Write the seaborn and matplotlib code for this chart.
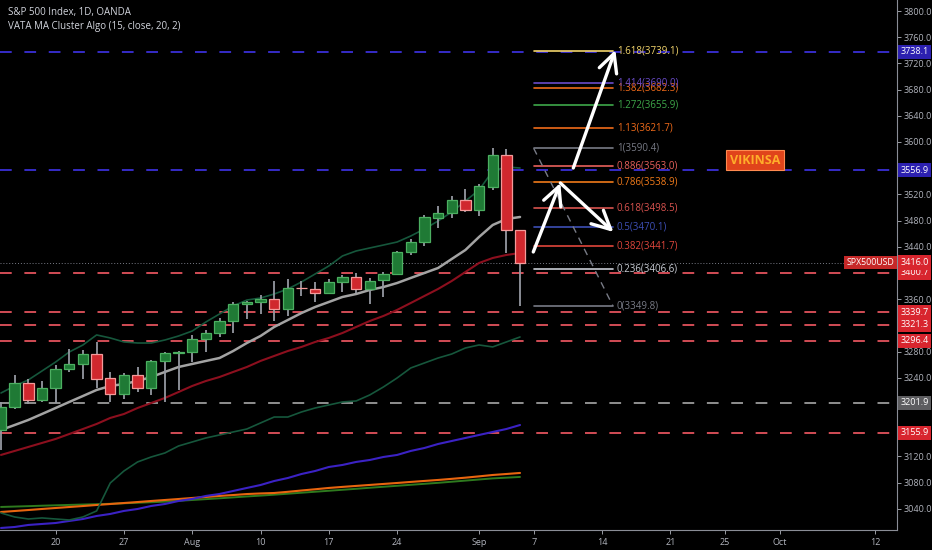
import numpy as np
import pandas as pd
import matplotlib
matplotlib.use("Agg")
import matplotlib.pyplot as plt
import seaborn as sns
from matplotlib.transforms import blended_transform_factory

# ---------------- data ----------------
calendar = pd.bdate_range("2020-07-14", "2020-10-20")
n_candles = 39
opens = [3160.3, 3195.4, 3232.1, 3206.1, 3224.4, 3253.4, 3261.1, 3276.3, 3239.7, 3215.3,
         3244.3, 3224.4, 3265.7, 3277.9, 3279.4, 3299.2, 3308.4, 3326.7, 3352.7, 3355.7,
         3360.3, 3345.0, 3377.1, 3375.6, 3369.5, 3386.3, 3393.9, 3375.6, 3389.3, 3398.5,
         3432.1, 3447.3, 3484.0, 3491.6, 3511.5, 3496.2, 3531.3, 3580.2, 3465.7]
highs = [3203.1, 3244.3, 3238.2, 3235.1, 3259.6, 3284.0, 3282.5, 3294.7, 3248.9, 3247.3,
         3256.5, 3267.2, 3279.4, 3280.5, 3305.4, 3313.0, 3331.3, 3355.7, 3356.5, 3366.4,
         3387.8, 3390.9, 3387.8, 3386.3, 3390.9, 3397.0, 3400.0, 3392.4, 3401.5, 3433.6,
         3451.9, 3488.6, 3502.3, 3517.6, 3528.3, 3535.9, 3590.4, 3589.3, 3466.2]
lows = [3129.8, 3193.0, 3200.0, 3203.1, 3201.5, 3248.9, 3238.2, 3224.4, 3203.1, 3207.6,
        3218.3, 3213.8, 3203.1, 3221.4, 3264.1, 3279.4, 3302.3, 3308.4, 3329.8, 3337.4,
        3326.7, 3334.4, 3364.9, 3355.7, 3369.0, 3371.0, 3369.5, 3352.0, 3363.4, 3397.0,
        3427.5, 3441.2, 3468.7, 3484.0, 3493.1, 3487.0, 3526.7, 3430.5, 3349.8]
closes = [3195.4, 3232.1, 3206.1, 3224.4, 3253.4, 3261.1, 3276.3, 3238.2, 3215.3, 3244.3,
          3224.4, 3265.7, 3277.9, 3279.4, 3299.2, 3308.4, 3326.7, 3352.7, 3355.7, 3360.3,
          3345.0, 3377.1, 3376.6, 3369.5, 3386.3, 3393.9, 3375.6, 3387.8, 3398.5, 3432.1,
          3447.3, 3485.5, 3491.6, 3511.5, 3496.2, 3532.8, 3580.2, 3465.7, 3416.0]

ma_fast = [3160.3, 3167.9, 3175.6, 3184.7, 3193.9, 3203.1, 3212.2, 3221.4, 3227.5, 3230.5,
           3235.1, 3241.2, 3248.9, 3256.5, 3261.1, 3265.7, 3270.2, 3280.9, 3293.1, 3303.8,
           3317.6, 3328.2, 3338.9, 3348.1, 3355.7, 3363.4, 3367.9, 3374.1, 3378.6, 3384.7,
           3392.4, 3400.0, 3407.6, 3421.4, 3435.1, 3455.0, 3473.3, 3482.4, 3485.5]
ma_mid = [3122.2, 3128.3, 3134.4, 3140.5, 3146.6, 3154.2, 3161.8, 3169.5, 3178.7, 3184.7,
          3193.9, 3201.5, 3209.2, 3218.3, 3227.5, 3235.1, 3241.2, 3248.9, 3256.5, 3265.7,
          3273.3, 3280.9, 3287.1, 3294.7, 3300.8, 3308.4, 3317.6, 3326.7, 3334.4, 3343.6,
          3354.2, 3364.9, 3375.6, 3387.8, 3401.5, 3415.3, 3422.9, 3427.5, 3430.5]
band_upper = [3216.8, 3227.5, 3236.7, 3250.4, 3264.1, 3279.4, 3290.1, 3305.4, 3300.8, 3294.7,
              3293.1, 3293.1, 3297.7, 3303.8, 3311.4, 3325.2, 3337.4, 3349.6, 3358.7, 3361.8,
              3367.9, 3375.6, 3386.3, 3398.5, 3410.7, 3426.0, 3433.6, 3438.2, 3442.7, 3447.3,
              3456.5, 3467.2, 3479.4, 3493.1, 3509.9, 3526.7, 3555.7, 3561.8, 3560.3]
band_lower = [3033.6, 3027.5, 3024.4, 3026.0, 3024.4, 3022.9, 3027.5, 3036.7, 3079.4, 3097.7,
              3111.5, 3119.1, 3125.2, 3135.9, 3142.0, 3148.1, 3152.7, 3157.3, 3161.8, 3171.0,
              3180.1, 3180.1, 3187.8, 3193.9, 3198.5, 3203.1, 3204.6, 3213.8, 3226.0, 3239.7,
              3255.0, 3262.6, 3270.2, 3276.3, 3285.5, 3290.1, 3287.1, 3294.7, 3302.3]
ma_blue = [3010.7, 3012.2, 3015.3, 3016.8, 3018.3, 3021.4, 3024.4, 3029.0, 3032.1, 3036.7,
           3039.7, 3044.3, 3047.3, 3051.9, 3055.0, 3059.6, 3062.6, 3067.2, 3071.8, 3076.3,
           3082.4, 3087.0, 3093.1, 3097.7, 3103.8, 3106.9, 3111.5, 3114.5, 3119.1, 3122.2,
           3128.3, 3132.8, 3138.9, 3143.5, 3148.1, 3152.7, 3157.3, 3161.8, 3167.9]
ma_orange = [3035.1, 3036.6, 3038.1, 3039.7, 3041.2, 3042.7, 3044.2, 3045.8, 3047.3, 3048.8,
             3050.3, 3051.9, 3053.4, 3054.9, 3056.5, 3058.0, 3059.6, 3061.0, 3062.5, 3063.4,
             3064.1, 3065.9, 3067.9, 3069.8, 3071.8, 3073.4, 3074.9, 3076.4, 3077.9, 3079.4,
             3081.0, 3082.5, 3084.0, 3085.7, 3087.5, 3089.5, 3091.6, 3093.1, 3094.7]
ma_green = [3042.8, 3043.4, 3044.0, 3044.7, 3045.3, 3045.9, 3046.5, 3047.0, 3047.6, 3048.4,
            3049.2, 3050.0, 3050.8, 3052.1, 3053.4, 3054.7, 3056.0, 3057.4, 3058.8, 3060.1,
            3061.5, 3063.0, 3064.5, 3066.0, 3067.5, 3069.0, 3070.5, 3072.1, 3073.6, 3075.1,
            3076.6, 3078.1, 3079.6, 3081.3, 3083.0, 3084.7, 3086.4, 3087.5, 3088.6]

tick_dates = ["2020-07-20", "2020-07-27", "2020-08-03", "2020-08-10", "2020-08-17",
              "2020-08-24", "2020-09-01", "2020-09-07", "2020-09-14", "2020-09-21",
              "2020-09-25", "2020-10-01", "2020-10-12"]
tick_labels = ["20", "27", "Aug", "10", "17", "24", "Sep", "7", "14", "21", "25", "Oct", "12"]
y_ticks = [3800, 3760, 3720, 3680, 3640, 3600, 3520, 3480, 3440, 3360, 3280, 3240, 3120, 3080, 3040]

level_values = [3738.1, 3556.9, 3400.7, 3339.7, 3321.3, 3296.4, 3201.9, 3155.9]
level_kinds = ["blue", "blue", "red", "red", "red", "red", "gray", "red"]
last_price = 3416.0

fib_low, fib_high = 3349.8, 3590.42
fib_ratios = [0, 0.236, 0.382, 0.5, 0.618, 0.786, 0.886, 1, 1.13, 1.272, 1.382, 1.414, 1.618]
fib_colors = ["#787b86", "#c8ccd4", "#e0463c", "#3d4fb5", "#d9534f", "#f07a1a", "#e8615c",
              "#787b86", "#f06b1a", "#3ea84a", "#f06b1a", "#6a4bc9", "#f2d46b"]
fib_start, fib_end = 39.0, 44.8

arrows = [((38.97, 3432.1), (40.95, 3537.4)),
          ((40.95, 3537.4), (44.84, 3462.6)),
          ((41.90, 3560.3), (44.98, 3740.5))]
note_text, note_pos = "VIKINSA", (55.2, 3572.5)

# ---------------- figure ----------------
sns.set_theme(style="dark")
plt.rcParams["font.family"] = ["Open Sans", "DejaVu Sans"]
BG = "#000000"
TXT = "#b2b5be"
fig = plt.figure(figsize=(9.32, 5.5), dpi=100, facecolor=BG)
ax = fig.add_axes([0, 20 / 550, 897 / 932, 530 / 550])
ax.set_facecolor(BG)
ax.grid(False)

x = np.arange(n_candles)
o = np.array(opens); c = np.array(closes); h = np.array(highs); l = np.array(lows)
up = c >= o

# horizontal levels
kind_color = {"blue": "#3a2fd6", "red": "#e2525c", "gray": "#9a9a9a"}
kind_box = {"blue": "#2c20b0", "red": "#d8252e", "gray": "#5d5d60"}
for v, k in zip(level_values, level_kinds):
    ax.axhline(v, color=kind_color[k], lw=1.3, ls=(0, (6.5, 7)), zorder=1)
ax.axhline(last_price, color="#787b86", lw=0.7, ls=(0, (1, 2)), zorder=1)

# moving averages through seaborn
ma_specs = [(ma_green, "#2e7a1e", 1.4), (ma_orange, "#e8650f", 1.5), (ma_blue, "#3b22c4", 1.5),
            (band_lower, "#16573c", 1.2), (band_upper, "#16573c", 1.2),
            (ma_mid, "#8c0f1e", 1.5), (ma_fast, "#a3a3a3", 1.8)]
for vals, col, lw in ma_specs:
    sns.lineplot(x=x, y=vals, ax=ax, color=col, lw=lw, zorder=2, legend=False)

# candles
ax.vlines(x, l, h, color="#9598a1", lw=1.3, zorder=3)
body_bottom = np.minimum(o, c)
body_h = np.maximum(np.abs(c - o), 0.6)
ax.bar(x[up], body_h[up], bottom=body_bottom[up], width=0.76, color="#1f7a35",
       edgecolor="#4caf61", linewidth=0.9, zorder=4)
ax.bar(x[~up], body_h[~up], bottom=body_bottom[~up], width=0.76, color="#d0282e",
       edgecolor="#f49a9a", linewidth=0.9, zorder=4)

# fib retracement
fib_vals = [fib_low + r * (fib_high - fib_low) for r in fib_ratios]
for r, v, col in zip(fib_ratios, fib_vals, fib_colors):
    ax.plot([fib_start, fib_end], [v, v], color=col, lw=1.2, zorder=5)
    ax.text(fib_end + 0.3, v, f"{r:g}({v:.1f})", color=col, fontsize=7,
            va="center", ha="left", zorder=6)
ax.plot([fib_start, fib_end], [fib_high, fib_low], color="#787b86", lw=1.0,
        ls=(0, (5, 4)), zorder=5)

for start, end in arrows:
    ax.annotate("", xy=end, xytext=start,
                arrowprops=dict(arrowstyle="->,head_length=1.1,head_width=0.55",
                                color="white", lw=2.4, shrinkA=0, shrinkB=0), zorder=7)

ax.text(note_pos[0], note_pos[1], note_text, color="#ffad2a", fontsize=9, fontweight="bold",
        ha="center", va="center", zorder=8,
        bbox=dict(boxstyle="square,pad=0.3", fc="#e0441b", ec="#ff8a50", lw=0.8))

# axes
ax.set_xlim(-0.073, 65.6)
ax.set_ylim(3007.6, 3816.8)
tick_pos = [calendar.get_loc(pd.Timestamp(d)) for d in tick_dates]
ax.set_xticks(tick_pos)
ax.set_xticklabels(tick_labels)
ax.yaxis.tick_right()
ax.set_yticks(y_ticks)
ax.set_yticklabels([f"{t:.1f}" for t in y_ticks])
ax.tick_params(axis="both", colors=TXT, labelsize=6.5, length=3, width=0.6, pad=2,
               bottom=True, right=True, left=False)
ax.tick_params(axis="x", pad=3)
for s in ["top", "left"]:
    ax.spines[s].set_visible(False)
for s in ["right", "bottom"]:
    ax.spines[s].set_color("#8a8d96")
    ax.spines[s].set_linewidth(0.8)
ax.set_xlabel(""); ax.set_ylabel("")

trans = blended_transform_factory(ax.transAxes, ax.transData)
for v, k in zip(level_values, level_kinds):
    ax.text(1.004, v, f"{v:.1f}", transform=trans, color="white", fontsize=6.5,
            ha="left", va="center", clip_on=False, zorder=9,
            bbox=dict(boxstyle="square,pad=0.28", fc=kind_box[k], ec="none"))
ax.text(1.004, last_price, f"{last_price:.1f}", transform=trans, color="white", fontsize=6.5,
        ha="left", va="center", clip_on=False, zorder=9,
        bbox=dict(boxstyle="square,pad=0.28", fc="#d8252e", ec="none"))
ax.text(0.997, last_price, "SPX500USD", transform=trans, color="white", fontsize=6.3,
        ha="right", va="center", clip_on=False, zorder=9,
        bbox=dict(boxstyle="square,pad=0.28", fc="#c62828", ec="none"))

fig.text(8 / 932, 1 - 12 / 550, "S&P 500 Index, 1D, OANDA", color="#d1d4dc",
         fontsize=7, va="center", ha="left")
fig.text(8 / 932, 1 - 27 / 550, "VATA MA Cluster Algo (15, close, 20, 2)", color="#d1d4dc",
         fontsize=7, va="center", ha="left")

fig.savefig("out.png", dpi=100, facecolor=BG)
